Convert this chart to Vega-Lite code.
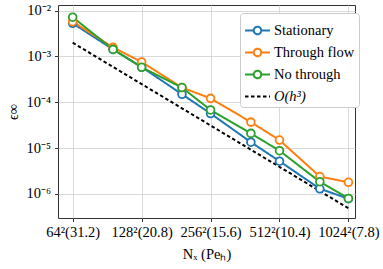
{
  "$schema": "https://vega.github.io/schema/vega-lite/v6.json",
  "autosize": "none",
  "width": 297,
  "height": 213,
  "padding": {"left": 58, "top": 5, "right": 28, "bottom": 51},
  "background": "white",
  "config": {
    "view": {"stroke": "#333333", "strokeWidth": 1},
    "axis": {
      "labelFont": "Liberation Serif", "labelFontSize": 14.5, "labelColor": "black",
      "titleFont": "Liberation Serif", "titleFontSize": 14.5, "titleColor": "black", "titleFontWeight": "normal",
      "tickColor": "#333333", "tickSize": 3.5, "domain": false,
      "gridColor": "#d0d0d0", "gridWidth": 0.8
    },
    "legend": {
      "labelFont": "Liberation Serif", "labelFontSize": 14.5, "labelColor": "black"
    }
  },
  "data": {"values": [
    {"N": 64, "err": 0.0053, "series": "Stationary"},
    {"N": 96, "err": 0.00143, "series": "Stationary"},
    {"N": 128, "err": 0.00059, "series": "Stationary"},
    {"N": 192, "err": 0.00015, "series": "Stationary"},
    {"N": 256, "err": 0.000057, "series": "Stationary"},
    {"N": 384, "err": 0.0000135, "series": "Stationary"},
    {"N": 512, "err": 0.0000052, "series": "Stationary"},
    {"N": 768, "err": 0.0000013, "series": "Stationary"},
    {"N": 1024, "err": 0.00000079, "series": "Stationary"},
    {"N": 64, "err": 0.00575, "series": "Through flow"},
    {"N": 96, "err": 0.00158, "series": "Through flow"},
    {"N": 128, "err": 0.00076, "series": "Through flow"},
    {"N": 192, "err": 0.00021, "series": "Through flow"},
    {"N": 256, "err": 0.000122, "series": "Through flow"},
    {"N": 384, "err": 0.000037, "series": "Through flow"},
    {"N": 512, "err": 0.000015, "series": "Through flow"},
    {"N": 768, "err": 0.0000024, "series": "Through flow"},
    {"N": 1024, "err": 0.0000018, "series": "Through flow"},
    {"N": 64, "err": 0.0072, "series": "No through"},
    {"N": 96, "err": 0.00143, "series": "No through"},
    {"N": 128, "err": 0.00058, "series": "No through"},
    {"N": 192, "err": 0.00021, "series": "No through"},
    {"N": 256, "err": 0.000068, "series": "No through"},
    {"N": 384, "err": 0.000021, "series": "No through"},
    {"N": 512, "err": 0.0000088, "series": "No through"},
    {"N": 768, "err": 0.00000185, "series": "No through"},
    {"N": 1024, "err": 0.0000008, "series": "No through"},
    {"N": 64, "err": 0.002, "series": "O(h³)"},
    {"N": 1024, "err": 0.000000488, "series": "O(h³)"}
  ]},
  "encoding": {
    "x": {
      "field": "N", "type": "quantitative",
      "scale": {"type": "log", "base": 2, "domain": [55.2, 1094], "nice": false},
      "axis": {
        "values": [64, 128, 256, 512, 1024],
        "title": "Nₓ (Peₕ)",
        "labelPadding": 4, "titlePadding": 8,
        "labelExpr": "datum.value == 64 ? '64²(31.2)' : datum.value == 128 ? '128²(20.8)' : datum.value == 256 ? '256²(15.6)' : datum.value == 512 ? '512²(10.4)' : '1024²(7.8)'"
      }
    },
    "y": {
      "field": "err", "type": "quantitative",
      "scale": {"type": "log", "domain": [0.000000299, 0.0133], "nice": false},
      "axis": {
        "values": [0.000001, 0.00001, 0.0001, 0.001, 0.01],
        "title": "ϵ∞",
        "labelPadding": 4, "titlePadding": 5,
        "labelExpr": "round(log(datum.value)/LN10) == -6 ? '10⁻⁶' : round(log(datum.value)/LN10) == -5 ? '10⁻⁵' : round(log(datum.value)/LN10) == -4 ? '10⁻⁴' : round(log(datum.value)/LN10) == -3 ? '10⁻³' : '10⁻²'"
      }
    },
    "color": {
      "field": "series", "type": "nominal",
      "scale": {"domain": ["Stationary", "Through flow", "No through", "O(h³)"], "range": ["#1f77b4", "#ff7f0e", "#2ca02c", "#000000"]},
      "legend": {
        "title": null, "orient": "none", "legendX": 182, "legendY": 8,
        "fillColor": "white", "strokeColor": "#cccccc", "cornerRadius": 3, "padding": 4,
        "rowPadding": -6.5, "labelOffset": 3,
        "symbolSize": 625, "symbolStrokeWidth": 2,
        "encode": {
          "symbols": {"update": {
            "shape": {"signal": "datum.value === 'O(h³)' ? 'M-1,0H1' : 'M-1,0H-0.3M0.3,0H1M0.3,0A0.3,0.3 0 1,1 -0.3,0A0.3,0.3 0 1,1 0.3,0Z'"},
            "fill": {"value": "white"},
            "strokeDash": {"signal": "datum.value === 'O(h³)' ? [3.5, 2.5] : []"}
          }},
          "labels": {"update": {
            "fontStyle": {"signal": "datum.value === 'O(h³)' ? 'italic' : 'normal'"}
          }}
        }
      }
    }
  },
  "layer": [
    {
      "mark": {"type": "line", "strokeWidth": 2},
      "encoding": {
        "strokeDash": {
          "field": "series", "type": "nominal",
          "scale": {"domain": ["Stationary", "Through flow", "No through", "O(h³)"], "range": [[1, 0], [1, 0], [1, 0], [3.5, 2.5]]},
          "legend": null
        }
      }
    },
    {
      "transform": [{"filter": "datum.series !== 'O(h³)'"}],
      "mark": {"type": "point", "filled": false, "fill": "white", "size": 60, "strokeWidth": 1.8, "opacity": 1}
    }
  ]
}
